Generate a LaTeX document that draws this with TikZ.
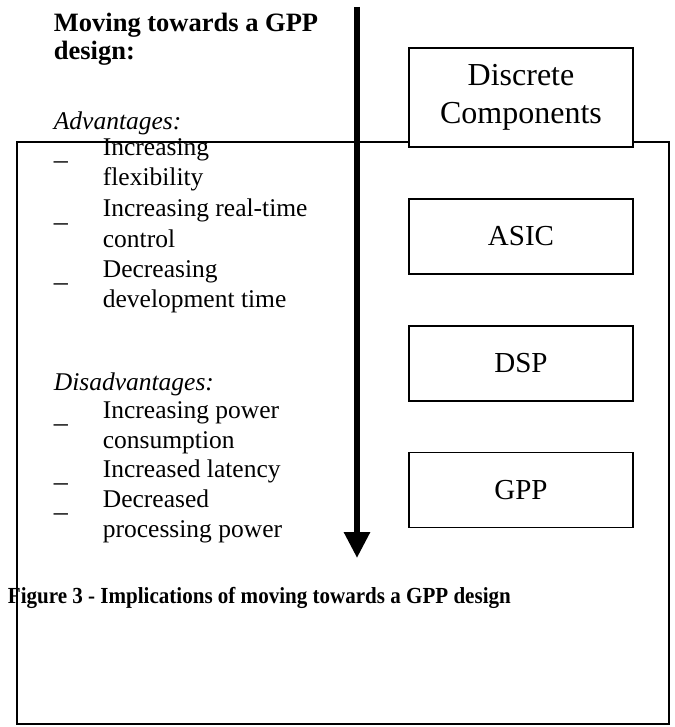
\documentclass[tikz,border=0pt]{standalone}
\usepackage{fontspec}
\setmainfont{Liberation Serif}
\usepackage{graphicx}
\usetikzlibrary{arrows.meta,positioning}

\begin{document}
\begin{tikzpicture}[
    x = 0.5pt, y = -0.5pt, % one unit per pixel, y going down
    node distance = 25pt, % gap between the boxes
    inner sep = 0pt,
    line width = 0.9pt % frame and box lines
    ]

    \tikzset{box/.style={
    draw = black,
    fill = white,
    minimum width = 112pt,
    minimum height = 37.5pt,
    font = \fontsize{14.5}{19}\selectfont
    }}
    % base of a multi-line item is its last line
    \tikzset{item/.style={
    anchor = base west,
    align = left,
    font = \fontsize{12.75}{15}\selectfont
    }}
    \tikzset{bul/.style={
    anchor = base west,
    font = \fontsize{14}{15}\selectfont
    }}

    \useasboundingbox (0,0) rectangle (674,727);
    \draw (17,142) rectangle (669,724);

    % text on the left
    \node[item, font=\bfseries\fontsize{13.25}{14}\selectfont] (title) at (53,60) {Moving towards a GPP\\design:};
    \node[item, font=\itshape\fontsize{12.75}{15}\selectfont] (adv) at (53,130) {Advantages:};
    \node[item] (a1) at (102,186) {Increasing\\flexibility};
    \node[item] (a2) at (102,247) {Increasing real-time\\control};
    \node[item] (a3) at (102,307) {Decreasing\\development time};
    \node[item, font=\itshape\fontsize{12.75}{15}\selectfont] (dis) at (53,390) {Disadvantages:};
    \node[item] (d1) at (102,448) {Increasing power\\consumption};
    \node[item] (d2) at (102,477) {Increased latency};
    \node[item] (d3) at (102,537) {Decreased\\processing power};
    \foreach \y/\n in {156/a1,217/a2,277/a3,418/d1,477/d2,507/d3}
        \node[bul] (b\n) at (53,\y+4) {\_};

    \node[item, font=\bfseries\fontsize{11.5}{14}\selectfont] (caption) at (7,603)
        {\scalebox{0.915}[1]{Figure 3 - Implications of moving towards a GPP design}};

    % the arrow
    \coordinate (top) at (357,7);
    \coordinate (tip) at (357,558);
    \draw[line width=3pt, -{Triangle[width=12.5pt,length=13pt]}] (top) -- (tip);

    % the boxes
    \node[box, align=center, minimum height=49.5pt, font=\fontsize{16}{19}\selectfont] (disc) at (521,97.5) {Discrete\\Components};
    \node[box] (asic) [below=of disc] {ASIC};
    \node[box] (dsp) [below=of asic] {DSP};
    \node[box] (gpp) [below=of dsp] {GPP};
\end{tikzpicture}
\end{document}
